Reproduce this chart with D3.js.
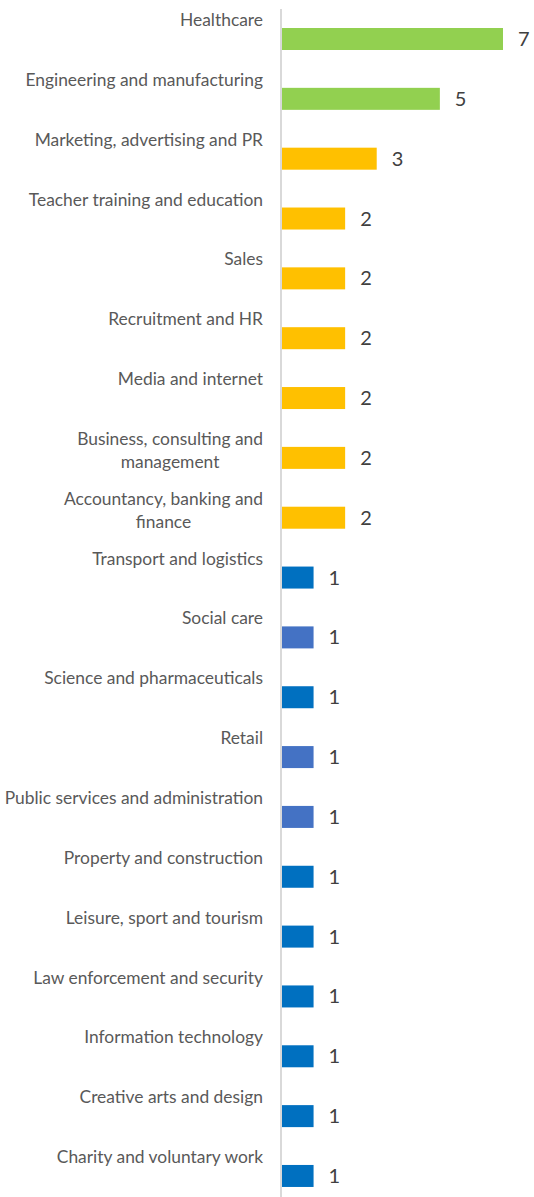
<!DOCTYPE html>
<html>
<head>
<meta charset="utf-8">
<script src="https://cdn.jsdelivr.net/npm/d3@7"></script>
<style>
  html, body { margin: 0; padding: 0; background: #fff; }
  svg { display: block; }
</style>
</head>
<body>
<svg id="chart" width="534" height="1197"></svg>
<script>
// Sectors and counts, top to bottom
const categories = [
  "Healthcare",
  "Engineering and manufacturing",
  "Marketing, advertising and PR",
  "Teacher training and education",
  "Sales",
  "Recruitment and HR",
  "Media and internet",
  "Business, consulting and management",
  "Accountancy, banking and finance",
  "Transport and logistics",
  "Social care",
  "Science and pharmaceuticals",
  "Retail",
  "Public services and administration",
  "Property and construction",
  "Leisure, sport and tourism",
  "Law enforcement and security",
  "Information technology",
  "Creative arts and design",
  "Charity and voluntary work"
];
const counts = [7, 5, 3, 2, 2, 2, 2, 2, 2, 1, 1, 1, 1, 1, 1, 1, 1, 1, 1, 1];
const barColors = [
  "#92D050", "#92D050",
  "#FFC000", "#FFC000", "#FFC000", "#FFC000", "#FFC000", "#FFC000", "#FFC000",
  "#0070C0", "#4472C4", "#0070C0", "#4472C4", "#4472C4",
  "#0070C0", "#0070C0", "#0070C0", "#0070C0", "#0070C0", "#0070C0"
];
// Long labels wrap onto two lines
const labelLines = {
  "Business, consulting and management": ["Business, consulting and", "management"],
  "Accountancy, banking and finance": ["Accountancy, banking and", "finance"]
};

const svg = d3.select("#chart");
const axisX = 281;
const plotTop = 9;
const bandH = 59.84;
const labelFont = "Lato, Carlito, 'Open Sans', sans-serif";

const x = d3.scaleLinear().domain([0, 7]).range([axisX + 1, 503]);
const y = d3.scaleBand().domain(categories).range([plotTop, plotTop + bandH * categories.length]).padding(0);

const data = categories.map((c, i) => ({ cat: c, value: counts[i], color: barColors[i] }));

// Bars sit in the lower part of each band, under their label
svg.append("g").selectAll("rect").data(data).join("rect")
  .attr("x", x(0))
  .attr("y", d => y(d.cat) + 19)
  .attr("width", d => x(d.value) - x(0))
  .attr("height", 22)
  .attr("fill", d => d.color);

// Value labels
svg.append("g").selectAll("text").data(data).join("text")
  .attr("x", d => x(d.value) + 15)
  .attr("y", d => y(d.cat) + 30)
  .attr("dy", "0.35em")
  .attr("font-family", labelFont)
  .attr("font-size", 20)
  .attr("fill", "#404040")
  .text(d => d.value);

// Category labels, right-aligned to the axis
const lab = svg.append("g").selectAll("text").data(data).join("text")
  .attr("x", 263)
  .attr("y", d => y(d.cat) + 11)
  .attr("text-anchor", "end")
  .attr("font-family", labelFont)
  .attr("font-size", 17.4)
  .attr("fill", "#595959");
lab.each(function(d) {
  const lines = labelLines[d.cat] || [d.cat];
  const t = d3.select(this);
  lines.forEach((ln, k) => {
    t.append("tspan")
      .attr("x", 263)
      .attr("dy", k === 0 ? "0.35em" : "23px")
      .text(ln);
  });
});
// Centre the continuation line of wrapped labels under the first line
lab.filter(d => labelLines[d.cat]).each(function(d) {
  const spans = d3.select(this).selectAll("tspan").nodes();
  const w0 = spans[0].getComputedTextLength();
  const cx = 263 - w0 / 2;
  spans.forEach(s => { d3.select(s).attr("x", cx).attr("text-anchor", "middle"); });
});

// Category axis line
svg.append("line")
  .attr("x1", axisX).attr("x2", axisX)
  .attr("y1", plotTop).attr("y2", 1197)
  .attr("stroke", "#D9D9D9")
  .attr("stroke-width", 2);
</script>
</body>
</html>
